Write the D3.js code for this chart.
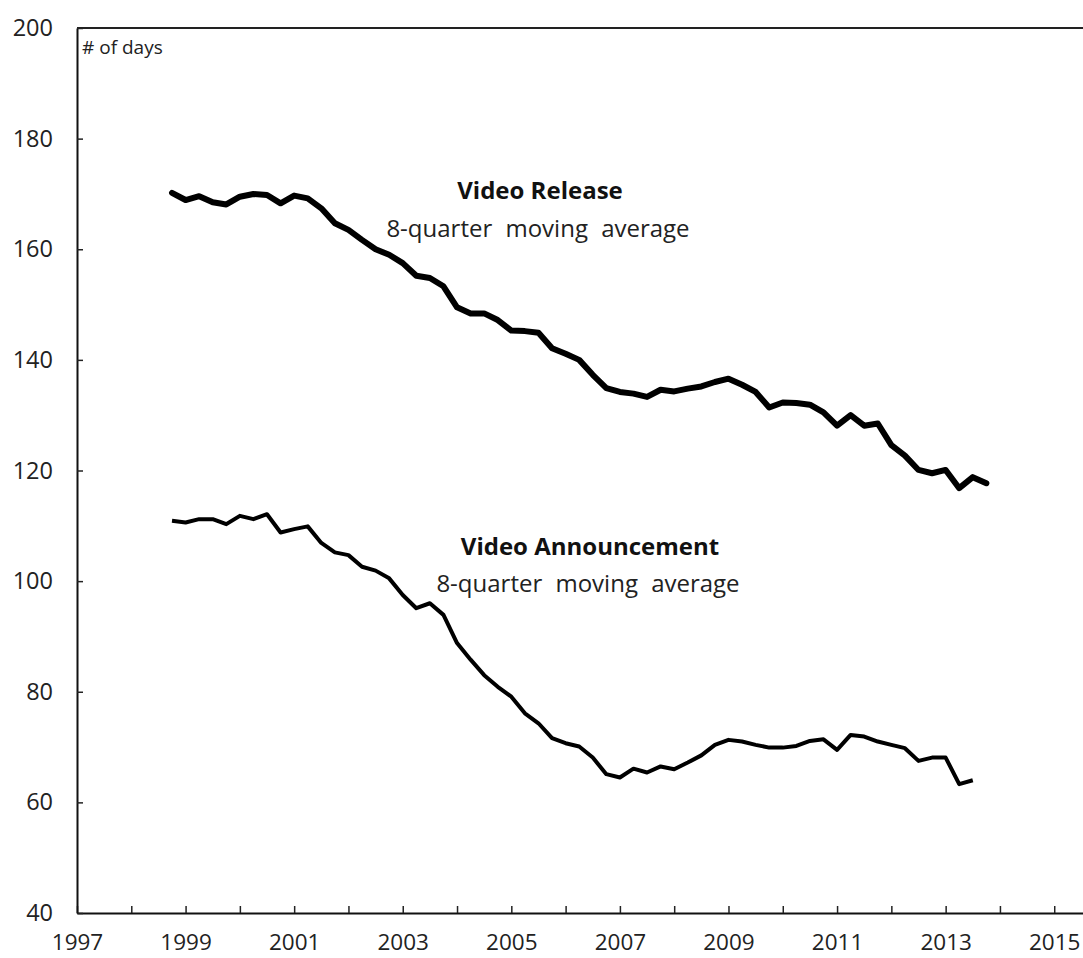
<!DOCTYPE html>
<html>
<head>
<meta charset="utf-8">
<script src="https://cdn.jsdelivr.net/npm/d3@7"></script>
<style>
  body { margin: 0; background: white; }
  .axis text { font-family: "Open Sans", sans-serif; fill: #222; }
</style>
</head>
<body>
<div id="chart"></div>
<script>
var width = 1083
var height = 958
var margin = {top: 28, right: 0, bottom: 45, left: 77}

// Gather data

var quarters = [
    "1998Q4",
    "1999Q1", "1999Q2", "1999Q3", "1999Q4",
    "2000Q1", "2000Q2", "2000Q3", "2000Q4",
    "2001Q1", "2001Q2", "2001Q3", "2001Q4",
    "2002Q1", "2002Q2", "2002Q3", "2002Q4",
    "2003Q1", "2003Q2", "2003Q3", "2003Q4",
    "2004Q1", "2004Q2", "2004Q3", "2004Q4",
    "2005Q1", "2005Q2", "2005Q3", "2005Q4",
    "2006Q1", "2006Q2", "2006Q3", "2006Q4",
    "2007Q1", "2007Q2", "2007Q3", "2007Q4",
    "2008Q1", "2008Q2", "2008Q3", "2008Q4",
    "2009Q1", "2009Q2", "2009Q3", "2009Q4",
    "2010Q1", "2010Q2", "2010Q3", "2010Q4",
    "2011Q1", "2011Q2", "2011Q3", "2011Q4",
    "2012Q1", "2012Q2", "2012Q3", "2012Q4",
    "2013Q1", "2013Q2", "2013Q3", "2013Q4"
];

// video release, 8-quarter moving average (days)
var release = [
    170.2,
    168.9, 169.6, 168.5, 168.1,
    169.5, 170.0, 169.8, 168.3,
    169.7, 169.2, 167.4, 164.7,
    163.5, 161.7, 160.0, 159.0,
    157.5, 155.2, 154.8, 153.3,
    149.5, 148.4, 148.4, 147.2,
    145.3, 145.2, 144.9, 142.1,
    141.1, 140.0, 137.3, 134.9,
    134.2, 133.9, 133.3, 134.6,
    134.3, 134.8, 135.2, 136.0,
    136.6, 135.5, 134.2, 131.4,
    132.3, 132.2, 131.9, 130.5,
    128.1, 130.0, 128.1, 128.5,
    124.6, 122.7, 120.1, 119.5,
    120.1, 116.8, 118.8, 117.7
];

// video announcement, 8-quarter moving average (days), ends one quarter earlier
var announcement = [
    110.9,
    110.6, 111.2, 111.2, 110.3,
    111.8, 111.2, 112.1, 108.8,
    109.4, 109.9, 106.9, 105.2,
    104.7, 102.6, 101.9, 100.5,
    97.5, 95.1, 96.0, 93.9,
    88.8, 85.8, 83.0, 80.9,
    79.1, 76.1, 74.3, 71.6,
    70.7, 70.1, 68.1, 65.1,
    64.5, 66.1, 65.4, 66.5,
    66.0, 67.2, 68.5, 70.4,
    71.3, 71.0, 70.4, 69.9,
    69.9, 70.2, 71.1, 71.4,
    69.5, 72.2, 71.9, 71.0,
    70.4, 69.8, 67.5, 68.1,
    68.1, 63.3, 64.0
];

var yTicks = [40, 60, 80, 100, 120, 140, 160, 180, 200];
var xTicks = [1997, 1998, 1999, 2000, 2001, 2002, 2003, 2004, 2005, 2006,
              2007, 2008, 2009, 2010, 2011, 2012, 2013, 2014, 2015];
var xLabels = [1997, 1999, 2001, 2003, 2005, 2007, 2009, 2011, 2013, 2015];

function quarterToYear(q) {
    return +q.slice(0, 4) + (+q.slice(5) - 1) / 4;
}

// Scales

var x_scale = d3.scaleLinear()
    .domain([1997, 2015.53])
    .range([margin.left, width - margin.right]);

var y_scale = d3.scaleLinear()
    .domain([40, 200])
    .range([height - margin.bottom, margin.top]);

var xAxis = d3.axisBottom(x_scale)
    .tickValues(xTicks)
    .tickSizeInner(-7)
    .tickSizeOuter(0)
    .tickPadding(21)
    .tickFormat(function(d) {
        return xLabels.indexOf(d) >= 0 ? d : "";
    });

var yAxis = d3.axisLeft(y_scale)
    .tickValues(yTicks)
    .tickSizeInner(-6)
    .tickSizeOuter(0)
    .tickPadding(24)
    .tickFormat(d3.format("d"));

// Chart background

var svg = d3.select("#chart")
    .append("svg")
    .attr("width", width)
    .attr("height", height)
    .style("background-color", "white")

// Adding axes

svg.append("g")
    .attr("class", "axis x")
    .attr("transform", "translate(0," + y_scale(40) + ")")
    .call(xAxis)
    .call(function(g) { g.select(".domain").attr("stroke", "#111").attr("stroke-width", 2); })
    .call(function(g) { g.selectAll(".tick line").attr("stroke", "#222").attr("stroke-width", 1.5); })
    .selectAll("text")
    .style("font-size", "22.5px");

svg.append("g")
    .attr("class", "axis y")
    .attr("transform", "translate(" + x_scale(1997) + ",0)")
    .call(yAxis)
    .call(function(g) { g.select(".domain").attr("stroke", "#111").attr("stroke-width", 2); })
    .call(function(g) { g.selectAll(".tick line").attr("stroke", "#222").attr("stroke-width", 1.5); })
    .selectAll("text")
    .style("font-size", "23.5px");

// top border of plot area
svg.append("line")
    .attr("x1", x_scale(1997))
    .attr("x2", width)
    .attr("y1", y_scale(200))
    .attr("y2", y_scale(200))
    .attr("stroke", "#222")
    .attr("stroke-width", 2);

// Adding data

var line = d3.line()
    .x(function(d, i) { return x_scale(quarterToYear(quarters[i])); })
    .y(function(d) { return y_scale(d); })
    .curve(d3.curveLinear);

svg.append("path")
    .datum(release)
    .attr("fill", "none")
    .attr("stroke", "black")
    .attr("stroke-width", 6)
    .attr("stroke-linejoin", "round")
    .attr("stroke-linecap", "round")
    .attr("d", line);

svg.append("path")
    .datum(announcement)
    .attr("fill", "none")
    .attr("stroke", "black")
    .attr("stroke-width", 4)
    .attr("stroke-linejoin", "round")
    .attr("stroke-linecap", "butt")
    .attr("d", line);

// Labels

svg.append("text")
    .attr("x", x_scale(1997) + 5)
    .attr("y", 54)
    .style("font-family", "'Open Sans', sans-serif")
    .style("font-size", "19px")
    .style("fill", "#222")
    .text("# of days");

var notes = [
    {title: "Video Release", cx: 540, ty: 199, sy: 237},
    {title: "Video Announcement", cx: 590, ty: 555, sy: 592}
];

notes.forEach(function(n) {
    svg.append("text")
        .attr("x", n.cx)
        .attr("y", n.ty)
        .attr("text-anchor", "middle")
        .style("font-family", "'Open Sans', sans-serif")
        .style("font-weight", "bold")
        .style("font-size", "24px")
        .style("fill", "#111")
        .text(n.title);
    svg.append("text")
        .attr("x", n.cx - 2)
        .attr("y", n.sy)
        .attr("text-anchor", "middle")
        .style("font-family", "'Open Sans', sans-serif")
        .style("font-size", "24px")
        .style("word-spacing", "7px")
        .style("fill", "#222")
        .text("8-quarter moving average");
});
</script>
</body>
</html>
